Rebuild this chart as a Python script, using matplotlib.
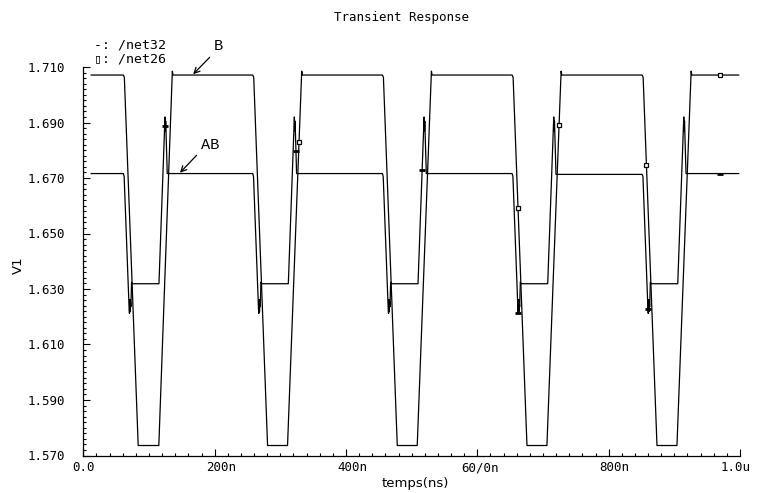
import numpy as np
import matplotlib
matplotlib.use("Agg")
import matplotlib.pyplot as plt
import matplotlib.transforms as mtransforms
from matplotlib.ticker import MultipleLocator

# waveform of /net26 (curve "B"), time in ns, volts
t_b = [12.0,
       61.0, 62.5, 83.6, 115.0, 135.6, 136.6,
       258.0, 259.5, 280.6, 311.0, 332.6, 333.6,
       455.5, 457.0, 478.1, 508.5, 530.1, 531.1,
       653.0, 654.5, 675.6, 706.0, 727.6, 728.6,
       851.0, 852.5, 873.6, 904.0, 925.6, 926.6,
       998.0]
v_b = [1.7071,
       1.7071, 1.7063, 1.5736, 1.5736, 1.7085, 1.7071,
       1.7071, 1.7063, 1.5736, 1.5736, 1.7085, 1.7071,
       1.7071, 1.7063, 1.5736, 1.5736, 1.7085, 1.7071,
       1.7071, 1.7063, 1.5736, 1.5736, 1.7085, 1.7071,
       1.7071, 1.7063, 1.5736, 1.5736, 1.7085, 1.7071,
       1.7071]

# waveform of /net32 (curve "AB")
t_ab = [12.0,
        61.0, 62.2, 69.8, 70.3, 70.8, 71.3, 71.8, 72.5, 73.5, 74.5, 115.2, 124.4, 125.0, 125.5, 127.8,
        258.0, 259.2, 266.8, 267.3, 267.8, 268.3, 268.8, 269.5, 270.5, 271.5, 312.2, 321.4, 322.0, 322.5, 324.8,
        455.5, 456.7, 464.3, 464.8, 465.3, 465.8, 466.3, 467.0, 468.0, 469.0, 509.7, 518.9, 519.5, 520.0, 522.3,
        653.0, 654.2, 661.8, 662.3, 662.8, 663.3, 663.8, 664.5, 665.5, 666.5, 707.2, 716.4, 717.0, 717.5, 719.8,
        851.0, 852.2, 859.8, 860.3, 860.8, 861.3, 861.8, 862.5, 863.5, 864.5, 905.2, 914.4, 915.0, 915.5, 917.8,
        998.0]
v_ab = [1.6716,
        1.6716, 1.6705, 1.6228, 1.6212, 1.6262, 1.6218, 1.6255, 1.6236, 1.6325, 1.6319, 1.6319, 1.6920, 1.6870, 1.6905, 1.6716,
        1.6716, 1.6705, 1.6228, 1.6212, 1.6262, 1.6218, 1.6255, 1.6236, 1.6325, 1.6319, 1.6319, 1.6920, 1.6870, 1.6905, 1.6716,
        1.6716, 1.6705, 1.6228, 1.6212, 1.6262, 1.6218, 1.6255, 1.6236, 1.6325, 1.6319, 1.6319, 1.6920, 1.6870, 1.6905, 1.6716,
        1.6716, 1.6705, 1.6228, 1.6212, 1.6262, 1.6218, 1.6255, 1.6236, 1.6325, 1.6319, 1.6319, 1.6920, 1.6870, 1.6905, 1.6713,
        1.6713, 1.6705, 1.6228, 1.6212, 1.6262, 1.6218, 1.6255, 1.6236, 1.6325, 1.6319, 1.6319, 1.6920, 1.6870, 1.6905, 1.6716,
        1.6716]

# where the plotter put its curve symbols
mark_t_b = [328.5, 662.0, 724.5, 857.5, 970.0]
mark_t_ab = [124.8, 323.8, 662.3, 516.0, 859.8, 970.0]

x_ticks = [0, 200, 400, 600, 800, 1000]
x_labels = ["0.0", "200n", "400n", "60/0n", "800n", "1.0u"]
y_ticks = [1.570, 1.590, 1.610, 1.630, 1.650, 1.670, 1.690, 1.710]
y_labels = ["1.570", "1.590", "1.610", "1.630", "1.650", "1.670", "1.690", "1.710"]

W, H = 757, 493
fig = plt.figure(figsize=(W / 100, H / 100), dpi=100)
ax = fig.add_axes([83.3 / W, 1 - 455.5 / H, (740 - 83.3) / W, (455.5 - 67) / H])

ax.plot(t_b, v_b, color="black", lw=0.9)
ax.plot(t_ab, v_ab, color="black", lw=0.9)

# symbols on the curves
ax.plot(mark_t_b, np.interp(mark_t_b, t_b, v_b), ls="none", marker="s",
        ms=3.2, mfc="white", mec="black", mew=0.9)
ax.plot(mark_t_ab, np.interp(mark_t_ab, t_ab, v_ab), ls="none", marker="_",
        ms=5, mec="black", mew=2.0)

ax.set_xlim(0, 1000)
ax.set_ylim(1.570, 1.710)
ax.set_xticks(x_ticks)
ax.set_xticklabels(x_labels)
ax.set_yticks(y_ticks)
ax.set_yticklabels(y_labels)
ax.xaxis.set_minor_locator(MultipleLocator(20))
ax.yaxis.set_minor_locator(MultipleLocator(0.002))

for s in ["top", "right"]:
    ax.spines[s].set_visible(False)
for s in ["left", "bottom"]:
    ax.spines[s].set_linewidth(0.9)

tick_font = "DejaVu Sans Mono"
ax.tick_params(axis="both", which="major", direction="in", length=5, width=0.8)
ax.tick_params(axis="both", which="minor", direction="in", length=2.5, width=0.8)
ax.tick_params(axis="y", which="major", pad=13)
ax.tick_params(axis="x", which="major", pad=4)
for lab in ax.get_xticklabels() + ax.get_yticklabels():
    lab.set_fontfamily(tick_font)
    lab.set_fontsize(9)

# the plotter's x labels sit a little off their ticks
x_shift_px = [0, 6, 6, 3, 5.5, -4.5]
for lab, dx in zip(ax.get_xticklabels(), x_shift_px):
    lab.set_transform(lab.get_transform() +
                      mtransforms.ScaledTranslation(dx / 100, 0, fig.dpi_scale_trans))

# title, axis names, legend
fig.text(401 / W, 1 - 17 / H, "Transient Response", ha="center", va="center",
         fontsize=9, family=tick_font)
fig.text(415 / W, 1 - 483 / H, "temps(ns)", ha="center", va="center",
         fontsize=9.5, family="DejaVu Sans")
fig.text(18 / W, 1 - 265 / H, "V1", ha="center", va="center", rotation=90,
         fontsize=9.5, family="DejaVu Sans")
fig.text(94 / W, 1 - 45 / H, "-: /net32", ha="left", va="center",
         fontsize=9.5, family=["DejaVu Sans Mono", "DejaVu Sans"])
fig.text(94 / W, 1 - 59 / H, "\u25af: /net26", ha="left", va="center",
         fontsize=9.5, family=["DejaVu Sans Mono", "DejaVu Sans"])

# curve labels with arrows
ax.text(205.5, 1.7176, "B", ha="center", va="center", fontsize=11,
        family="Liberation Mono", clip_on=False)
ax.annotate("", xy=(167.3, 1.7074), xytext=(192.5, 1.7135),
            arrowprops=dict(arrowstyle="->", lw=0.9, color="black",
                            shrinkA=0, shrinkB=0, mutation_scale=10),
            annotation_clip=False)
ax.text(192.8, 1.6819, "AB", ha="center", va="center", fontsize=11,
        family="Liberation Mono", clip_on=False)
ax.annotate("", xy=(147.2, 1.6719), xytext=(172.6, 1.6782),
            arrowprops=dict(arrowstyle="->", lw=0.9, color="black",
                            shrinkA=0, shrinkB=0, mutation_scale=10))

fig.savefig("out.png", dpi=100)
